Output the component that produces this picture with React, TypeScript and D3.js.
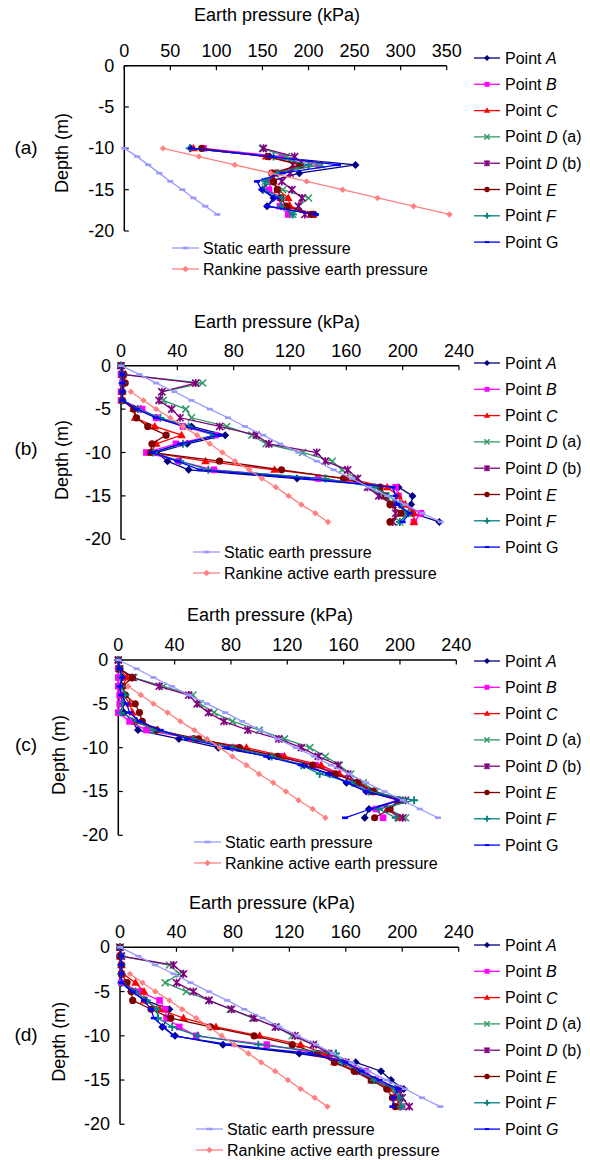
import React from 'react';
import * as d3 from 'd3';

// ---------- categories ----------
const depthsA = [-10, -11, -12, -13, -14, -15, -16, -17, -18];
const depthsFull = [0, -1, -2, -3, -4, -5, -6, -7, -8, -9, -10, -11, -12, -13, -14, -15, -16, -17, -18];
const depthsRankine = [-3, -4, -5, -6, -7, -8, -9, -10, -11, -12, -13, -14, -15, -16, -17, -18];

const seriesNames = ['A', 'B', 'C', 'D (a)', 'D (b)', 'E', 'F', 'G'];
const seriesColors = ['#000080', '#FF00FF', '#FF0000', '#339966', '#800080', '#800000', '#008080', '#0000FF'];
const seriesMarkers = ['diamond', 'square', 'triangle', 'x', 'star', 'circle', 'plus', 'dash'];

const xTicksA = [0, 50, 100, 150, 200, 250, 300, 350];
const xTicksB = [0, 40, 80, 120, 160, 200, 240];
const yTicks = [0, -5, -10, -15, -20];

// ---------- panel (a) ----------
const aPointA = [72, 158, 251, 190, 158, 150, 162, 155, 207];
const aPointB = [86, 171, 211, 163, 160, 157, 169, 169, 178];
const aPointC = [75, 154, 192, 164, 162, 167, 178, 180, 205];
const aPointDa = [150, 176, 214, 164, 153, 172, 200, 189, 183];
const aPointDb = [151, 185, 183, 180, 171, 182, 193, 189, 196];
const aPointE = [84, 156, 191, 160, 162, 166, 170, 176, 203];
const aPointF = [71, 162, 200, 166, 153, 151, 171, 170, 183];
const aPointG = [73, 160, 232, 172, 144, 149, 165, 155, 208];
const aStatic = [0, 14, 26, 38, 50, 63, 75, 88, 101];
const aRankine = [42, 81, 120, 159, 198, 237, 275, 314, 353];

// ---------- panel (b) ----------
const bPointA = [0, 1, 2, 1, 1, 14, 25, 50, 74, 47, 25, 33, 48, 125, 197, 207, 206, 207, 226];
const bPointB = [0, 0, 1, 0, 0, 15, 25, 44, 67, 39, 18, 41, 66, 140, 195, 197, 199, 213, 208];
const bPointC = [0, 1, 2, 1, 1, 9, 10, 24, 43, 25, 21, 60, 109, 161, 189, 197, 202, 208, 208];
const bPointDa = [0, 1, 58, 29, 30, 46, 50, 75, 93, 103, 129, 150, 157, 167, 176, 185, 196, 203, 198];
const bPointDb = [0, 1, 53, 29, 27, 36, 42, 70, 96, 105, 139, 145, 161, 168, 175, 183, 193, 195, 193];
const bPointE = [0, 2, 3, 1, 1, 9, 11, 19, 32, 22, 21, 70, 114, 158, 184, 188, 191, 199, 191];
const bPointF = [0, 1, 1, 1, 1, 12, 28, 48, 66, 44, 23, 42, 62, 145, 180, 190, 198, 204, 198];
const bPointG = [0, 1, 1, 1, 1, 11, 25, 45, 70, 42, 22, 40, 56, 132, 193, 195, 196, 205, 200];

// ---------- panel (c) ----------
const cPointA = [0, 0, 3, 1, 2, 3, 4, 10, 14, 43, 71, 107, 132, 150, 162, 176, 199, 178, 175];
const cPointB = [0, 0, 0, 0, 1, 1, 0, 8, 20, 53, 82, 115, 140, 156, 168, 179, 198, 183, 188];
const cPointC = [0, 1, 6, 3, 4, 8, 10, 13, 28, 54, 91, 118, 144, 157, 172, 182, 200, 191, 199];
const cPointDa = [0, 1, 11, 32, 53, 58, 68, 81, 100, 118, 136, 147, 157, 165, 174, 183, 200, 192, 204];
const cPointDb = [0, 1, 10, 29, 50, 56, 64, 75, 92, 114, 130, 142, 156, 163, 169, 181, 204, 191, 202];
const cPointE = [0, 1, 10, 3, 5, 12, 15, 17, 27, 57, 86, 113, 138, 154, 170, 181, 199, 193, 182];
const cPointF = [0, 1, 2, 2, 5, 3, 2, 13, 25, 53, 81, 109, 130, 143, 166, 178, 210, 185, 197];
const cPointG = [0, 1, 3, 1, 2, 6, 8, 15, 30, 49, 77, 105, 130, 149, 163, 176, 200, 179, 161];

// ---------- panel (d) ----------
const dPointA = [0, 0, 1, 1, 1, 8, 18, 35, 34, 30, 39, 73, 127, 167, 185, 192, 201, 197, 198];
const dPointB = [0, 0, 1, 1, 1, 14, 28, 32, 33, 42, 54, 104, 141, 160, 174, 181, 197, 197, 200];
const dPointC = [0, 0, 1, 2, 11, 17, 17, 28, 45, 68, 99, 128, 145, 152, 168, 179, 191, 197, 197];
const dPointDa = [0, 1, 35, 42, 32, 47, 63, 78, 94, 111, 122, 137, 151, 158, 168, 178, 195, 199, 200];
const dPointDb = [0, 1, 38, 45, 40, 52, 63, 79, 95, 110, 124, 137, 148, 160, 168, 179, 197, 200, 205];
const dPointE = [0, 0, 1, 1, 5, 8, 9, 22, 36, 64, 95, 122, 140, 152, 166, 178, 189, 193, 195];
const dPointF = [0, 1, 1, 1, 1, 11, 19, 26, 27, 37, 55, 98, 153, 157, 171, 180, 195, 198, 199];
const dPointG = [0, 1, 1, 1, 1, 9, 17, 22, 24, 31, 38, 78, 135, 160, 171, 184, 197, 194, 193];

// ---------- shared static / Rankine active ----------
const staticFull = [0, 13, 25, 38, 50, 63, 76, 88, 101, 113, 126, 139, 151, 164, 176, 189, 202, 214, 227];
const rankineActive = [7, 16, 25, 35, 44, 54, 63, 72, 81, 91, 100, 110, 119, 128, 138, 147];

const FONT = 'Liberation Sans, Arial, Helvetica, sans-serif';

type Panel = {
  label: string;
  depths: number[];
  series: number[][];
  staticDepths: number[];
  staticVals: number[];
  rankDepths: number[];
  rankVals: number[];
  rankLabel: string;
  xMax: number;
  xTicks: number[];
  italicG: boolean;
  x0: number; x1: number; yTop: number; yBot: number;
  titleX: number; titleY: number; labelY: number; depthX: number; depthY: number;
  legTop: number; legStep: number; legX: number;
  botLegX: number; botLegY: number;
};

const panels: Panel[] = [
  {
    label: '(a)', depths: depthsA,
    series: [aPointA, aPointB, aPointC, aPointDa, aPointDb, aPointE, aPointF, aPointG],
    staticDepths: depthsA, staticVals: aStatic, rankDepths: depthsA, rankVals: aRankine,
    rankLabel: 'Rankine passive earth pressure', xMax: 350, xTicks: xTicksA, italicG: false,
    x0: 124.3, x1: 446.7, yTop: 65.7, yBot: 231, titleX: 277, titleY: 15, labelY: 147, depthX: 62, depthY: 153,
    legTop: 58, legStep: 26.3, legX: 474, botLegX: 172, botLegY: 248,
  },
  {
    label: '(b)', depths: depthsFull,
    series: [bPointA, bPointB, bPointC, bPointDa, bPointDb, bPointE, bPointF, bPointG],
    staticDepths: depthsFull, staticVals: staticFull, rankDepths: depthsRankine, rankVals: rankineActive,
    rankLabel: 'Rankine active earth pressure', xMax: 240, xTicks: xTicksB, italicG: false,
    x0: 121, x1: 459, yTop: 365.7, yBot: 539.3, titleX: 277, titleY: 321.7, labelY: 448, depthX: 62, depthY: 460,
    legTop: 363, legStep: 26.3, legX: 474, botLegX: 193, botLegY: 552,
  },
  {
    label: '(c)', depths: depthsFull,
    series: [cPointA, cPointB, cPointC, cPointDa, cPointDb, cPointE, cPointF, cPointG],
    staticDepths: depthsFull, staticVals: staticFull, rankDepths: depthsRankine, rankVals: rankineActive,
    rankLabel: 'Rankine active earth pressure', xMax: 240, xTicks: xTicksB, italicG: false,
    x0: 118.3, x1: 456.3, yTop: 660, yBot: 835.3, titleX: 270, titleY: 615, labelY: 744, depthX: 58.5, depthY: 755,
    legTop: 661, legStep: 26.3, legX: 474, botLegX: 194, botLegY: 842,
  },
  {
    label: '(d)', depths: depthsFull,
    series: [dPointA, dPointB, dPointC, dPointDa, dPointDb, dPointE, dPointF, dPointG],
    staticDepths: depthsFull, staticVals: staticFull, rankDepths: depthsRankine, rankVals: rankineActive,
    rankLabel: 'Rankine active earth pressure', xMax: 240, xTicks: xTicksB, italicG: true,
    x0: 120, x1: 458.7, yTop: 947.3, yBot: 1124.3, titleX: 272, titleY: 903, labelY: 1034, depthX: 58.5, depthY: 1041.7,
    legTop: 945, legStep: 26.3, legX: 474, botLegX: 196, botLegY: 1129,
  },
];

function Marker({ type, x, y, color, s = 1 }: { type: string; x: number; y: number; color: string; s?: number }) {
  switch (type) {
    case 'diamond':
      return <path d={`M${x},${y - 4 * s}L${x + 4 * s},${y}L${x},${y + 4 * s}L${x - 4 * s},${y}Z`} fill={color} />;
    case 'smalldiamond':
      return <path d={`M${x},${y - 3.2 * s}L${x + 3.2 * s},${y}L${x},${y + 3.2 * s}L${x - 3.2 * s},${y}Z`} fill={color} />;
    case 'square':
      return <rect x={x - 3.3 * s} y={y - 3.3 * s} width={6.6 * s} height={6.6 * s} fill={color} />;
    case 'triangle':
      return <path d={`M${x},${y - 4.5 * s}L${x + 4.3 * s},${y + 3 * s}L${x - 4.3 * s},${y + 3 * s}Z`} fill={color} />;
    case 'x':
      return <path d={`M${x - 3.5 * s},${y - 3.5 * s}L${x + 3.5 * s},${y + 3.5 * s}M${x - 3.5 * s},${y + 3.5 * s}L${x + 3.5 * s},${y - 3.5 * s}`} stroke={color} strokeWidth={1.5} fill="none" />;
    case 'star':
      return <path d={`M${x - 3.5 * s},${y - 3.5 * s}L${x + 3.5 * s},${y + 3.5 * s}M${x - 3.5 * s},${y + 3.5 * s}L${x + 3.5 * s},${y - 3.5 * s}M${x},${y - 4 * s}L${x},${y + 4 * s}`} stroke={color} strokeWidth={1.6} fill="none" />;
    case 'circle':
      return <circle cx={x} cy={y} r={3.6 * s} fill={color} />;
    case 'plus':
      return <path d={`M${x - 4 * s},${y}L${x + 4 * s},${y}M${x},${y - 4 * s}L${x},${y + 4 * s}`} stroke={color} strokeWidth={1.8} fill="none" />;
    case 'dash':
      return <rect x={x - 3 * s} y={y - 1.3 * s} width={6 * s} height={2.6 * s} fill={color} />;
    default:
      return null;
  }
}

function PanelView({ p }: { p: Panel }) {
  const x = d3.scaleLinear().domain([0, p.xMax]).range([p.x0, p.x1]);
  const y = d3.scaleLinear().domain([0, -20]).range([p.yTop, p.yBot]);
  const line = d3.line<[number, number]>().x((d) => x(d[0])).y((d) => y(d[1]));
  const staticColor = '#9999FF';
  const rankColor = '#FF8080';
  const stPts: [number, number][] = p.staticVals.map((v, i) => [v, p.staticDepths[i]]);
  const rkPts: [number, number][] = p.rankVals.map((v, i) => [v, p.rankDepths[i]]);

  return (
    <g fontFamily={FONT}>
      <text x={p.titleX} y={p.titleY} fontSize={18} textAnchor="middle" dominantBaseline="central">Earth pressure (kPa)</text>
      <text x={26} y={p.labelY} fontSize={19} textAnchor="middle" dominantBaseline="central">{p.label}</text>
      <text transform={`translate(${p.depthX},${p.depthY}) rotate(-90)`} fontSize={18} textAnchor="middle" dominantBaseline="central">Depth (m)</text>

      <line x1={p.x0} x2={p.x1} y1={p.yTop} y2={p.yTop} stroke="#000" strokeWidth={1.5} />
      <line x1={p.x0} x2={p.x0} y1={p.yTop} y2={p.yBot} stroke="#000" strokeWidth={1.5} />
      {p.xTicks.map((t) => (
        <g key={'xt' + t}>
          <line x1={x(t)} x2={x(t)} y1={p.yTop} y2={p.yTop + 4.5} stroke="#000" strokeWidth={1.2} />
          <text x={x(t)} y={p.yTop - 15} fontSize={18} textAnchor="middle" dominantBaseline="central">{t}</text>
        </g>
      ))}
      {yTicks.map((t) => (
        <g key={'yt' + t}>
          <line x1={p.x0} x2={p.x0 + 4.5} y1={y(t)} y2={y(t)} stroke="#000" strokeWidth={1.2} />
          <text x={p.x0 - 10} y={y(t)} fontSize={18} textAnchor="end" dominantBaseline="central">{t}</text>
        </g>
      ))}

      {p.series.map((vals, si) => {
        const pts: [number, number][] = vals.map((v, i) => [v, p.depths[i]]);
        return (
          <g key={'s' + si}>
            <path d={line(pts) || ''} fill="none" stroke={seriesColors[si]} strokeWidth={1.3} />
            {pts.map((pt, i) => (
              <Marker key={i} type={seriesMarkers[si]} x={x(pt[0])} y={y(pt[1])} color={seriesColors[si]} />
            ))}
          </g>
        );
      })}

      <path d={line(stPts) || ''} fill="none" stroke={staticColor} strokeWidth={1.3} />
      {stPts.map((pt, i) => (
        <Marker key={'st' + i} type="dash" x={x(pt[0])} y={y(pt[1])} color={staticColor} />
      ))}
      <path d={line(rkPts) || ''} fill="none" stroke={rankColor} strokeWidth={1.3} />
      {rkPts.map((pt, i) => (
        <Marker key={'rk' + i} type="smalldiamond" x={x(pt[0])} y={y(pt[1])} color={rankColor} />
      ))}

      {seriesNames.map((n, i) => {
        const ly = p.legTop + i * p.legStep;
        const letter = n.split(' ')[0];
        const rest = n.slice(letter.length);
        const italic = letter !== 'G' || p.italicG;
        return (
          <g key={'lg' + i}>
            <line x1={p.legX} x2={p.legX + 26} y1={ly} y2={ly} stroke={seriesColors[i]} strokeWidth={1.3} />
            <Marker type={seriesMarkers[i]} x={p.legX + 13} y={ly} color={seriesColors[i]} s={0.75} />
            <text x={p.legX + 31} y={ly} fontSize={16} dominantBaseline="central">
              Point <tspan fontStyle={italic ? 'italic' : 'normal'}>{letter}</tspan>{rest}
            </text>
          </g>
        );
      })}

      <line x1={p.botLegX} x2={p.botLegX + 27} y1={p.botLegY} y2={p.botLegY} stroke={staticColor} strokeWidth={1.3} />
      <Marker type="dash" x={p.botLegX + 13.5} y={p.botLegY} color={staticColor} />
      <text x={p.botLegX + 31} y={p.botLegY} fontSize={16} dominantBaseline="central">Static earth pressure</text>
      <line x1={p.botLegX} x2={p.botLegX + 27} y1={p.botLegY + 21} y2={p.botLegY + 21} stroke={rankColor} strokeWidth={1.3} />
      <Marker type="smalldiamond" x={p.botLegX + 13.5} y={p.botLegY + 21} color={rankColor} />
      <text x={p.botLegX + 31} y={p.botLegY + 21} fontSize={16} dominantBaseline="central">{p.rankLabel}</text>
    </g>
  );
}

export default function App() {
  return (
    <svg width={590} height={1160} style={{ position: 'absolute', left: 0, top: 0, background: '#fff' }}>
      <rect width={590} height={1160} fill="#fff" />
      {panels.map((p) => (
        <PanelView key={p.label} p={p} />
      ))}
    </svg>
  );
}
